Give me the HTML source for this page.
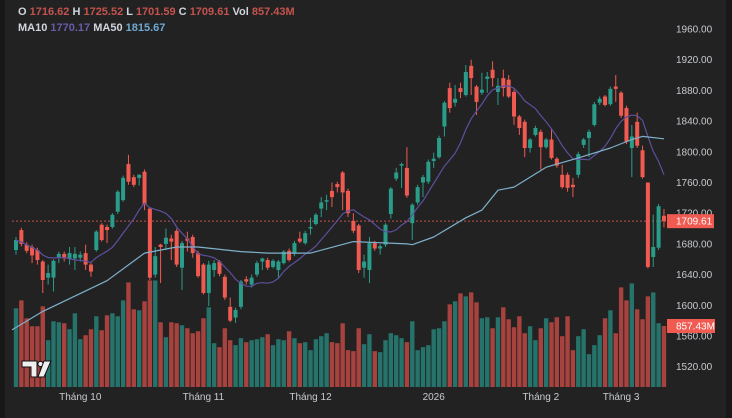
<!DOCTYPE html>
<html><head><meta charset="utf-8">
<style>
html,body{margin:0;padding:0;background:#222222;}
svg{display:block;font-family:"Liberation Sans",sans-serif;}
</style></head>
<body>
<svg id="chart" width="732" height="418" viewBox="0 0 732 418">
  <rect x="0" y="0" width="732" height="418" fill="#222222"/>
  <rect x="0" y="0" width="5" height="418" fill="#181818"/>
  <rect x="726" y="0" width="6" height="418" fill="#181818"/>
  <g id="volumes"></g>
  <g id="candles"></g>
  <g id="mas"></g>
  <g id="yaxis"></g>
  <g id="xaxis"></g>
  <g>
    <path d="M22 361 h15 v16 h-6 v-10 h-9 z" fill="#f0f0f0" stroke="#111" stroke-width="1"/>
    <circle cx="40.5" cy="364" r="2.6" fill="#f0f0f0" stroke="#111" stroke-width="1"/>
    <path d="M44 361 h7 l-7 16 h-6 z" fill="#f0f0f0" stroke="#111" stroke-width="1"/>
  </g>
  <g font-size="11" font-weight="bold">
    <text x="18" y="15"><tspan fill="#d1d4dc">O </tspan><tspan fill="#c4534e">1716.62</tspan><tspan fill="#d1d4dc"> H </tspan><tspan fill="#c4534e">1725.52</tspan><tspan fill="#d1d4dc"> L </tspan><tspan fill="#c4534e">1701.59</tspan><tspan fill="#d1d4dc"> C </tspan><tspan fill="#c4534e">1709.61</tspan><tspan fill="#d1d4dc"> Vol </tspan><tspan fill="#c4534e">857.43M</tspan></text>
    <text x="18" y="31"><tspan fill="#d1d4dc">MA10 </tspan><tspan fill="#6a5ba8">1770.17</tspan><tspan fill="#d1d4dc"> MA50 </tspan><tspan fill="#6fa9d2">1815.67</tspan></text>
  </g>
</svg>
<script>
const opens=[1672,1698,1679,1676,1672,1657,1636,1636,1662,1667,1661,1661,1662,1668,1653,1672,1705,1702,1702,1722,1737,1784,1767,1766,1774,1726,1640,1679,1680,1687,1697,1649,1687,1689,1668,1653,1616,1646,1657,1637,1598,1584,1598,1634,1627,1640,1657,1659,1650,1646,1655,1671,1667,1687,1681,1700,1706,1726,1735,1749,1758,1773,1749,1710,1704,1649,1646,1681,1674,1679,1719,1765,1782,1779,1707,1734,1760,1761,1788,1793,1833,1883,1864,1883,1874,1912,1885,1877,1895,1907,1878,1896,1894,1878,1846,1839,1805,1822,1826,1806,1816,1791,1770,1770,1757,1770,1809,1818,1835,1864,1872,1862,1885,1877,1857,1805,1839,1802,1760,1663,1675,1716.62];
const highs=[1689,1701,1682,1679,1675,1659,1653,1660,1670,1670,1676,1676,1670,1679,1655,1698,1707,1705,1720,1750,1769,1796,1770,1771,1777,1728,1676,1680,1700,1692,1700,1684,1696,1692,1671,1655,1658,1659,1659,1640,1610,1597,1633,1638,1640,1658,1662,1662,1660,1659,1672,1674,1684,1696,1697,1714,1720,1741,1744,1760,1761,1775,1752,1720,1706,1666,1689,1684,1680,1707,1754,1779,1786,1806,1733,1757,1770,1790,1799,1821,1866,1890,1887,1890,1913,1920,1887,1903,1904,1918,1896,1907,1900,1881,1848,1842,1818,1834,1829,1818,1829,1793,1783,1773,1766,1800,1818,1829,1865,1872,1874,1885,1900,1879,1860,1835,1851,1808,1760,1718,1732,1725.52];
const lows=[1666,1677,1668,1655,1653,1616,1627,1618,1655,1657,1653,1646,1657,1646,1637,1670,1683,1681,1700,1719,1735,1757,1754,1756,1724,1633,1636,1629,1672,1659,1650,1620,1670,1662,1636,1614,1599,1637,1638,1607,1578,1577,1595,1627,1623,1637,1646,1646,1648,1636,1653,1657,1664,1681,1679,1692,1704,1715,1724,1728,1747,1724,1715,1694,1642,1636,1629,1671,1666,1676,1713,1762,1753,1740,1685,1731,1741,1758,1779,1791,1820,1851,1859,1870,1872,1874,1848,1874,1877,1885,1861,1872,1870,1835,1822,1793,1799,1820,1777,1804,1790,1779,1752,1748,1741,1766,1805,1793,1833,1861,1859,1860,1865,1844,1810,1767,1805,1765,1648,1650,1672,1701.59];
const closes=[1685,1680,1671,1665,1659,1633,1642,1658,1667,1661,1668,1667,1666,1653,1644,1696,1685,1698,1718,1748,1766,1761,1757,1770,1731,1636,1664,1676,1688,1683,1653,1681,1684,1668,1638,1616,1653,1655,1641,1610,1580,1594,1631,1631,1636,1655,1661,1649,1658,1657,1670,1659,1681,1683,1694,1702,1718,1734,1737,1741,1754,1747,1720,1697,1646,1657,1681,1674,1677,1705,1752,1773,1784,1743,1731,1754,1767,1787,1791,1818,1864,1857,1869,1878,1904,1896,1865,1881,1898,1896,1886,1883,1872,1846,1831,1805,1816,1831,1806,1816,1792,1782,1754,1753,1754,1797,1816,1826,1862,1869,1861,1882,1882,1847,1813,1820,1808,1767,1650,1676,1729,1709.61];
const volumes=[1106,1218,966,854,854,1134,658,924,910,896,812,1036,672,728,812,994,798,1008,1036,994,1218,1470,1092,1078,1204,1498,1498,910,700,910,896,868,826,756,784,966,1120,616,560,826,658,588,686,630,658,672,700,742,588,672,658,784,686,616,630,518,672,714,756,630,616,896,518,504,826,602,742,504,490,658,756,728,686,630,924,518,560,588,812,826,924,1162,1204,1316,1274,1330,1190,966,980,826,980,1120,952,840,994,756,854,658,826,966,910,980,714,994,518,714,812,462,588,728,966,1078,756,1400,1218,1456,1092,952,1274,1330,896,857.43];
const ma50Index=[0,5,11,17,24,30,34,42,47,55,63,73,74,78,84,87,90,93,99,105,111,115,117,121];
const ma50Values=[1568,1592,1612,1632,1668,1676,1676,1670,1668,1668,1683,1680,1679,1689,1714,1724,1750,1754,1780,1792,1805,1816,1820,1817];
const priceTicks=[1960,1920,1880,1840,1800,1760,1720,1680,1640,1600,1560,1520];
const timeLabels=["Tháng 10","Tháng 11","Tháng 12","2026","Tháng 2","Tháng 3"];
const timeLabelIndex=[12,35,55,78,98,113];
const lastPrice=1709.61, lastVolume=857.43;

const NS="http://www.w3.org/2000/svg";
const X0=16, STEP=5.355;
function xOf(i){return X0+i*STEP;}
function yOf(p){return 29+(1960-p)*0.7675;}
const VOL_BASE=387, VOL_K=61/857.43;
function vY(v){return VOL_BASE-v*VOL_K;}
function mk(tag,attrs,parent){const e=document.createElementNS(NS,tag);for(const k in attrs)e.setAttribute(k,attrs[k]);parent.appendChild(e);return e;}

const gV=document.getElementById('volumes');
const gC=document.getElementById('candles');
const gM=document.getElementById('mas');
const gY=document.getElementById('yaxis');
const gX=document.getElementById('xaxis');

for(let i=0;i<volumes.length;i++){
  const up=closes[i]>=opens[i];
  const r=mk('rect',{x:(xOf(i)-2.2).toFixed(2),y:vY(volumes[i]).toFixed(2),width:4.4,height:(VOL_BASE-vY(volumes[i])).toFixed(2),fill:up?'#25736a':'#a8423e'},gV);
  
  
}
const pl=mk('line',{x1:12,x2:668,y1:yOf(lastPrice),y2:yOf(lastPrice),stroke:'#c4534e','stroke-width':1,'stroke-dasharray':'2 2'},gC);


for(let i=0;i<opens.length;i++){
  const up=closes[i]>=opens[i];
  const col=up?'#2a9d8a':'#f05a50';
  const g=mk('g',{},gC);
  
  
  const x=xOf(i);
  mk('line',{x1:x,x2:x,y1:yOf(highs[i]),y2:yOf(lows[i]),stroke:col,'stroke-width':1},g);
  const t=Math.min(yOf(opens[i]),yOf(closes[i])),b=Math.max(yOf(opens[i]),yOf(closes[i]));
  mk('rect',{x:(x-2).toFixed(2),y:t.toFixed(2),width:4,height:Math.max(1,b-t).toFixed(2),fill:col},g);
}
let pts=[];
for(let i=0;i<closes.length;i++){let s=0,n=0;for(let j=Math.max(0,i-9);j<=i;j++){s+=closes[j];n++;}pts.push(xOf(i).toFixed(1)+','+yOf(s/n).toFixed(1));}
const m10=mk('polyline',{points:pts.join(' '),fill:'none',stroke:'#5d4f9e','stroke-width':1.2},gM);


pts=ma50Index.map((idx,k)=>xOf(idx).toFixed(1)+','+yOf(ma50Values[k]).toFixed(1));
pts[0]=(12)+','+yOf(ma50Values[0]).toFixed(1);
const m50=mk('polyline',{points:pts.join(' '),fill:'none',stroke:'#7fb0cc','stroke-width':1.2,'stroke-linejoin':'round'},gM);



priceTicks.forEach(p=>{
  const t=mk('text',{x:676,y:yOf(p)+3.5,fill:'#c8cad0','font-size':10},gY);
  t.textContent=p.toFixed(2);
  
  
});
const lp=mk('g',{},gY);


mk('rect',{x:667,y:yOf(lastPrice)-7,width:47,height:14,fill:'#f05a50'},lp);
mk('text',{x:676,y:yOf(lastPrice)+3.5,fill:'#ffffff','font-size':10},lp).textContent=lastPrice.toFixed(2);
const lv=mk('g',{},gY);


mk('rect',{x:667,y:vY(lastVolume)-7,width:48,height:14,fill:'#f05a50'},lv);
mk('text',{x:676,y:vY(lastVolume)+3.5,fill:'#ffffff','font-size':10},lv).textContent=lastVolume.toFixed(2)+'M';

timeLabels.forEach((l,k)=>{
  const t=mk('text',{x:xOf(timeLabelIndex[k]),y:400,fill:'#c8cad0','font-size':10,'text-anchor':'middle'},gX);
  t.textContent=l;
  
  
});
</script>
</body></html>
